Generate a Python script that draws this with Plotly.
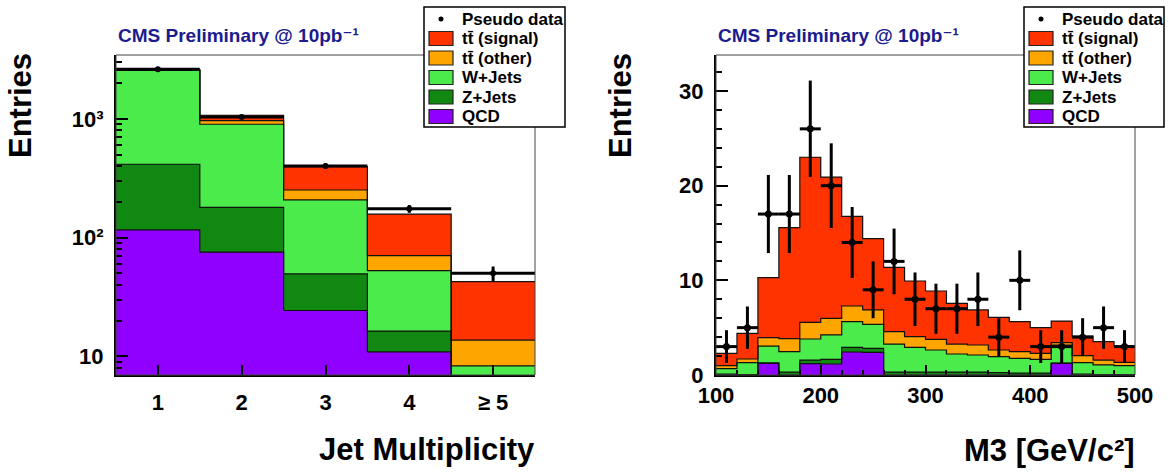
import numpy as np
import plotly.graph_objects as go

W_PX, H_PX = 1175, 473

# ---------------- data: jet multiplicity (left) ----------------
jet_categories = ["1", "2", "3", "4", "≥ 5"]
jet_qcd = [116, 75.3, 24.3, 10.9, 3.0]
jet_zjets = [299, 104.7, 25.1, 5.4, 1.5]
jet_wjets = [2145, 722, 158.6, 36.4, 3.8]
jet_tt_other = [25, 66, 44, 17.8, 5.4]
jet_tt_signal = [15, 107, 144, 87.5, 28.9]
jet_data = [2620, 1040, 402, 175, 50]
jet_ytickvals = [10, 100, 1000]
jet_yticktext = ["10", "10²", "10³"]

# ---------------- data: M3 (right) ----------------
m3_edges = [100, 120, 140, 160, 180, 200, 220, 240, 260, 280, 300,
            320, 340, 360, 380, 400, 420, 440, 460, 480, 500]
m3_qcd = [0, 0, 1.23, 0, 1.2, 1.16, 2.43, 2.39, 0, 0, 0, 0, 0, 0, 0, 0, 1.23, 0, 0, 0]
m3_zjets = [0.1, 0.05, 0.05, 0.3, 0.38, 0.49, 0.49, 0.43, 0.3, 0.3, 0.3, 0.3, 0.3,
            0.25, 0.2, 0.2, 0.02, 0.1, 0.05, 0.05]
m3_wjets = [0.57, 1.25, 1.78, 2.16, 2.22, 2.58, 2.71, 2.53, 2.97, 2.62, 2.34, 1.92,
            1.81, 1.69, 1.56, 1.45, 1.92, 1.2, 1.01, 0.94]
m3_tt_other = [0.32, 0.39, 0.88, 1.38, 1.76, 1.76, 1.66, 1.52, 1.31, 1.13, 1.13, 1.05,
               1.06, 0.70, 0.70, 0.64, 0.25, 0.74, 0.52, 0.35]
m3_tt_signal = [1.30, 2.71, 6.34, 11.72, 17.44, 14.91, 9.47, 7.53, 6.79, 5.88, 5.10,
                4.30, 3.70, 3.45, 3.17, 2.71, 2.28, 2.08, 1.94, 1.72]
m3_data = [3, 5, 17, 17, 26, 20, 14, 9, 12, 8, 7, 7, 8, 4, 10, 3, 3, 4, 5, 3]

data_name = "Pseudo data"
series_names = ["tt\u0304 (signal)", "tt\u0304 (other)", "W+Jets", "Z+Jets", "QCD"]
series_colors = ["#FF3300", "#FFA500", "#4BEB4B", "#118811", "#9000FF"]
panel_title = "CMS Preliminary @ 10pb\u207B\u00B9"

FONT = "Liberation Sans, Arial, Helvetica, DejaVu Sans, sans-serif"
NAVY = "#1B1B8F"


def px(x):
    return x / W_PX


def py(y):
    return 1 - y / H_PX


fig = go.Figure()


def add_panel(xa, ya, centers, edges, width, comps_bottom_up, data, xerr, msize):
    cums = np.cumsum(np.array(comps_bottom_up, dtype=float), axis=0)
    colors_bu = series_colors[::-1]
    names_bu = series_names[::-1]
    for i in range(len(cums) - 1, -1, -1):
        fig.add_trace(go.Bar(
            x=centers, y=cums[i], width=width, xaxis=xa, yaxis=ya,
            marker=dict(color=colors_bu[i], line=dict(width=0)),
            name=names_bu[i], showlegend=False, hoverinfo="skip"))
    for i in range(len(cums) - 1, -1, -1):
        yy = list(cums[i]) + [cums[i][-1]]
        fig.add_trace(go.Scatter(
            x=list(edges), y=yy, mode="lines", line=dict(shape="hv", color="#111111", width=1.2),
            xaxis=xa, yaxis=ya, showlegend=False, hoverinfo="skip"))
    fig.add_trace(go.Scatter(
        x=centers, y=data, mode="markers", name=data_name, xaxis=xa, yaxis=ya,
        marker=dict(color="black", size=msize),
        error_y=dict(type="data", array=np.sqrt(np.array(data, dtype=float)), width=0,
                     thickness=3, color="black"),
        error_x=dict(type="constant", value=xerr, width=0, thickness=3, color="black"),
        showlegend=False))


jet_x = np.arange(1, len(jet_categories) + 1)
jet_edges = np.arange(0.5, len(jet_categories) + 1, 1.0)
add_panel("x", "y", jet_x, jet_edges, 1.0,
          [jet_qcd, jet_zjets, jet_wjets, jet_tt_other, jet_tt_signal], jet_data, 0.5, 6)

m3_edges_a = np.array(m3_edges, dtype=float)
m3_centers = 0.5 * (m3_edges_a[:-1] + m3_edges_a[1:])
add_panel("x2", "y2", m3_centers, m3_edges_a, 20.0,
          [m3_qcd, m3_zjets, m3_wjets, m3_tt_other, m3_tt_signal], m3_data, 10.0, 7)

tickfont = dict(family=FONT, size=22, color="black", weight="bold")
axis_common = dict(showline=True, linewidth=2, linecolor="black", mirror=False,
                   showgrid=False, zeroline=False, ticks="inside", tickcolor="black",
                   tickwidth=2, tickfont=tickfont, automargin=False, fixedrange=True)

minor_log = [8, 9] + [v * 10 for v in range(2, 10)] + [v * 100 for v in range(2, 10)] + [2000, 3000]

fig.update_layout(
    width=W_PX, height=H_PX,
    margin=dict(l=0, r=0, t=0, b=0),
    paper_bgcolor="white", plot_bgcolor="white",
    barmode="overlay", bargap=0,
    showlegend=False,
    xaxis=dict(domain=[px(116), px(535)], range=[0.5, 5.5], tickvals=list(jet_x),
               ticktext=jet_categories, ticklen=10, ticklabelstandoff=7, anchor="y",
               **axis_common),
    yaxis=dict(domain=[py(375), py(55)], type="log", range=[0.842, 3.539],
               tickvals=jet_ytickvals, ticktext=jet_yticktext,
               ticklen=12, ticklabelstandoff=6, anchor="x",
               minor=dict(tickvals=minor_log, ticks="inside", ticklen=6, tickcolor="black",
                          tickwidth=1.5),
               **axis_common),
    xaxis2=dict(domain=[px(716), px(1135)], range=[100, 500], dtick=100, tick0=100,
                ticklen=10, ticklabelstandoff=0, anchor="y2",
                minor=dict(dtick=20, ticks="inside", ticklen=5, tickcolor="black", tickwidth=1.5),
                **axis_common),
    yaxis2=dict(domain=[py(375), py(55)], range=[0, 33.8], dtick=10, ticklen=12,
                ticklabelstandoff=6, anchor="x2",
                minor=dict(dtick=2, ticks="inside", ticklen=6, tickcolor="black", tickwidth=1.5),
                **axis_common),
)

# thin frame on top/right
for xr, yr in (("x domain", "y domain"), ("x2 domain", "y2 domain")):
    fig.add_shape(type="rect", xref=xr, yref=yr, x0=0, x1=1, y0=0, y1=1,
                  line=dict(color="#444444", width=1), layer="above")

# ROOT-style legend boxes (drawn in paper space)
legend_font = dict(family=FONT, size=17, color="black", weight="bold")
row_y = [19, 38.5, 58, 77.5, 97, 116.5]
for L, R in ((424, 565), (1024, 1164)):
    fig.add_shape(type="rect", xref="paper", yref="paper", x0=px(L), x1=px(R),
                  y0=py(127), y1=py(7), line=dict(color="black", width=1.5),
                  fillcolor="white", layer="above")
    fig.add_shape(type="circle", xref="paper", yref="paper",
                  x0=px(L + 14.5), x1=px(L + 19.5), y0=py(row_y[0] + 2.5), y1=py(row_y[0] - 2.5),
                  line=dict(color="black", width=0), fillcolor="black", layer="above")
    fig.add_annotation(text=data_name, x=px(L + 36), y=py(row_y[0]), xref="paper",
                       yref="paper", xanchor="left", yanchor="middle", showarrow=False,
                       font=legend_font)
    for k, (nm, col) in enumerate(zip(series_names, series_colors)):
        yc = row_y[k + 1]
        fig.add_shape(type="rect", xref="paper", yref="paper", x0=px(L + 5), x1=px(L + 29),
                      y0=py(yc + 7), y1=py(yc - 7), line=dict(color="#222222", width=1.2),
                      fillcolor=col, layer="above")
        fig.add_annotation(text=nm, x=px(L + 36), y=py(yc), xref="paper", yref="paper",
                           xanchor="left", yanchor="middle", showarrow=False, font=legend_font)

ann_font_big = dict(family=FONT, size=31, color="black", weight="bold")
title_font = dict(family=FONT, size=19, color=NAVY, weight="bold")
annotations = [
    dict(text=panel_title, x=px(116), y=py(48), xanchor="left",
         yanchor="bottom", font=title_font),
    dict(text=panel_title, x=px(716), y=py(48), xanchor="left",
         yanchor="bottom", font=title_font),
    dict(text="Entries", x=px(21), y=py(106), textangle=-90, xanchor="center",
         yanchor="middle", font=ann_font_big),
    dict(text="Entries", x=px(621), y=py(106), textangle=-90, xanchor="center",
         yanchor="middle", font=ann_font_big),
    dict(text="Jet Multiplicity", x=px(537), y=py(449), xanchor="right", yanchor="middle",
         font=ann_font_big),
    dict(text="M3 [GeV/c²]", x=px(1137), y=py(450), xanchor="right",
         yanchor="middle", font=ann_font_big),
]
for a in annotations:
    fig.add_annotation(xref="paper", yref="paper", showarrow=False, **a)

fig.write_html("out.html")
